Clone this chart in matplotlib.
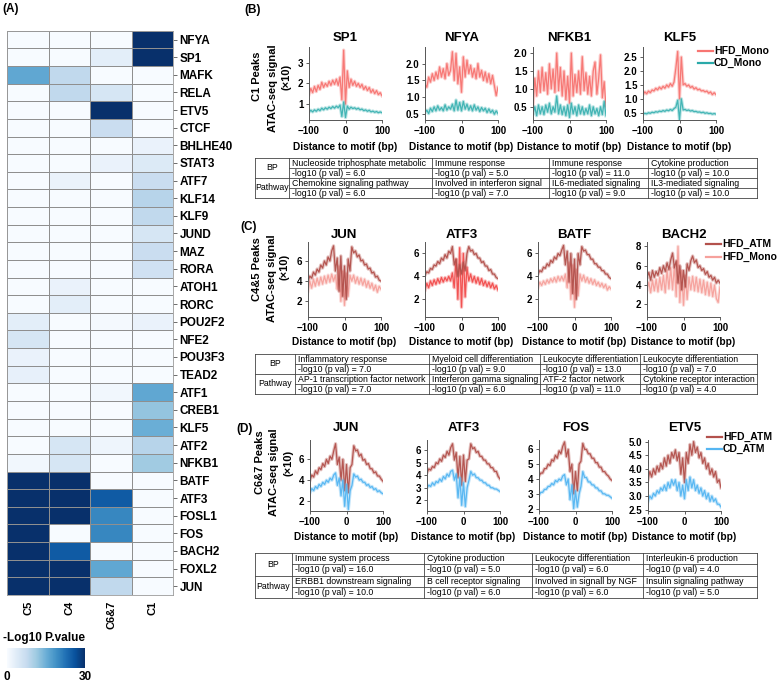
import matplotlib
matplotlib.use("Agg")
import matplotlib.pyplot as plt
import numpy as np
from matplotlib import font_manager
from matplotlib.lines import Line2D
from matplotlib.colors import Normalize
from matplotlib.cm import ScalarMappable

W, H = 778, 683
plt.rcParams['font.family'] = ['Liberation Sans', 'DejaVu Sans']
_names = {f.name for f in font_manager.fontManager.ttflist}
NARROW = 'Liberation Sans Narrow' if 'Liberation Sans Narrow' in _names else 'Liberation Sans'

# ---------------- (A) heatmap data ----------------
tf_names = ["NFYA", "SP1", "MAFK", "RELA", "ETV5", "CTCF", "BHLHE40", "STAT3",
            "ATF7", "KLF14", "KLF9", "JUND", "MAZ", "RORA", "ATOH1", "RORC",
            "POU2F2", "NFE2", "POU3F3", "TEAD2", "ATF1", "CREB1", "KLF5", "ATF2",
            "NFKB1", "BATF", "ATF3", "FOSL1", "FOS", "BACH2", "FOXL2", "JUN"]
clusters = ["C5", "C4", "C6&7", "C1"]
c5 = [0, 0, 16, 0, 0, 0, 0, 0, 0, 0, 0, 0, 0, 0, 0, 0,
      3, 5, 2, 2.5, 0, 0, 0, 0, 1, 30, 30, 30, 30, 30, 30, 30]
c4 = [0, 0, 8, 8, 0, 0, 0, 0, 2, 0, 0, 0, 0, 0, 2, 3,
      0, 0, 0, 0, 0, 0, 0, 5, 5, 30, 30, 30, 0, 25, 30, 30]
c67 = [0, 3, 0, 5, 30, 7, 0, 2, 0, 0, 0, 0, 0, 0, 0, 0,
       0.5, 0, 0, 0, 1, 0, 0, 1.5, 0, 0, 25, 20, 20, 0, 16, 8]
c1 = [30, 30, 0, 0, 0, 0, 2, 4, 7, 9, 8, 5, 7, 6, 0, 0,
      2, 0, 0, 0, 16, 12, 15, 9, 11, 0, 0, 0, 0, 0, 0, 0]

# ---------------- footprint profiles (x10 ATAC signal) ----------------
bp = list(range(-100, 101, 5))

# (B) C1 peaks
b_titles = ["SP1", "NFYA", "NFKB1", "KLF5"]
sp1_hfd_mono = [1.45, 1.75, 1.55, 1.85, 1.60, 1.90, 1.70, 2.05, 1.80, 2.00,
                1.85, 2.10, 1.90, 2.15, 1.95, 2.20, 1.90, 2.30, 1.20, 3.60,
                1.00, 2.60, 1.80, 2.20, 1.90, 2.10, 1.85, 2.00, 1.80, 1.95,
                1.70, 1.85, 1.65, 1.80, 1.55, 1.70, 1.50, 1.65, 1.45, 1.55, 1.40]
sp1_cd_mono = [0.60, 0.70, 0.62, 0.72, 0.65, 0.75, 0.68, 0.80, 0.72, 0.82,
               0.75, 0.85, 0.78, 0.88, 0.80, 0.90, 0.82, 0.95, 0.40, 1.10,
               0.35, 0.90, 0.75, 0.85, 0.78, 0.82, 0.75, 0.80, 0.72, 0.76,
               0.68, 0.72, 0.65, 0.70, 0.62, 0.66, 0.60, 0.64, 0.58, 0.62, 0.58]
nfya_hfd_mono = [1.40, 1.30, 1.60, 1.45, 1.70, 1.50, 1.75, 1.55, 1.90, 1.60,
                 1.85, 1.55, 2.00, 1.65, 1.80, 2.35, 1.50, 2.30, 1.40, 1.90,
                 1.15, 2.20, 1.60, 2.10, 1.70, 1.95, 1.60, 1.85, 1.55, 2.00,
                 1.60, 1.80, 1.50, 1.75, 1.45, 1.70, 1.40, 1.65, 1.35, 1.05, 1.30]
nfya_cd_mono = [0.55, 0.62, 0.52, 0.68, 0.58, 0.72, 0.60, 0.75, 0.62, 0.70,
                0.60, 0.78, 0.62, 0.72, 0.65, 0.80, 0.60, 0.92, 0.62, 0.85,
                0.60, 0.88, 0.65, 0.80, 0.62, 0.75, 0.60, 0.78, 0.62, 0.72,
                0.58, 0.70, 0.60, 0.68, 0.55, 0.66, 0.55, 0.62, 0.50, 0.60, 0.52]
nfkb1_hfd_mono = [0.55, 1.30, 0.80, 1.50, 0.90, 1.60, 0.95, 1.45, 0.85, 1.70,
                  1.00, 1.55, 0.90, 2.00, 0.95, 1.60, 0.80, 1.50, 0.70, 1.35,
                  0.60, 2.00, 0.80, 1.40, 0.90, 1.50, 0.85, 1.90, 0.95, 1.45,
                  0.85, 1.35, 0.80, 1.50, 1.75, 0.85, 1.30, 1.95, 0.75, 1.20, 0.50]
nfkb1_cd_mono = [0.30, 0.50, 0.25, 0.55, 0.30, 0.50, 0.28, 0.55, 0.35, 0.60,
                 0.30, 0.50, 0.35, 0.80, 0.30, 0.55, 0.28, 0.50, 0.25, 0.55,
                 0.20, 0.60, 0.30, 0.50, 0.25, 0.55, 0.30, 0.50, 0.28, 0.45,
                 0.30, 0.55, 0.25, 0.50, 0.30, 0.45, 0.25, 0.50, 0.28, 0.65, 0.25]
klf5_hfd_mono = [1.15, 1.25, 1.18, 1.28, 1.22, 1.32, 1.28, 1.38, 1.32, 1.42,
                 1.35, 1.45, 1.38, 1.50, 1.42, 1.55, 1.45, 1.60, 2.10, 2.70,
                 1.00, 2.50, 1.50, 1.55, 1.45, 1.50, 1.40, 1.45, 1.35, 1.40,
                 1.32, 1.35, 1.28, 1.30, 1.25, 1.28, 1.20, 1.25, 1.15, 1.22, 1.15]
klf5_cd_mono = [0.45, 0.48, 0.46, 0.50, 0.48, 0.52, 0.50, 0.54, 0.52, 0.56,
                0.54, 0.58, 0.55, 0.60, 0.57, 0.62, 0.58, 0.65, 0.70, 0.95,
                0.25, 1.00, 0.60, 0.62, 0.58, 0.60, 0.56, 0.58, 0.54, 0.55,
                0.52, 0.53, 0.50, 0.52, 0.48, 0.50, 0.47, 0.48, 0.45, 0.47, 0.45]

# (C) C4&5 peaks
c_titles = ["JUN", "ATF3", "BATF", "BACH2"]
jun_c_atm = [4.0, 4.5, 4.3, 4.9, 4.6, 5.2, 4.9, 5.6, 5.3, 6.0,
             5.6, 6.4, 6.0, 7.0, 7.5, 5.0, 6.3, 3.0, 6.5, 2.5,
             5.5, 2.2, 6.2, 5.0, 7.4, 6.8, 7.0, 6.4, 6.6, 6.0,
             6.1, 5.6, 5.7, 5.2, 5.3, 4.8, 4.9, 4.4, 4.5, 4.1, 4.0]
jun_c_mono = [3.0, 4.0, 3.3, 4.2, 3.5, 4.3, 3.6, 4.4, 3.7, 4.5,
              3.8, 4.6, 3.9, 4.7, 4.0, 4.6, 3.2, 5.5, 2.0, 5.0,
              1.6, 4.8, 2.5, 4.6, 4.0, 4.6, 3.8, 4.4, 3.7, 4.3,
              3.6, 4.2, 3.4, 4.0, 3.3, 3.8, 3.1, 3.6, 2.9, 3.5, 3.2]
atf3_c_atm = [4.1, 4.4, 4.3, 4.7, 4.6, 5.0, 4.9, 5.3, 5.1, 5.6,
              5.4, 5.9, 5.6, 6.2, 6.0, 6.6, 5.0, 5.5, 4.0, 5.0,
              4.2, 5.2, 4.5, 6.0, 6.6, 6.2, 6.3, 5.9, 6.0, 5.6,
              5.6, 5.2, 5.3, 4.9, 4.9, 4.5, 4.6, 4.2, 4.2, 3.9, 3.8]
atf3_c_mono = [2.8, 3.4, 3.0, 3.6, 3.2, 3.7, 3.3, 3.8, 3.4, 3.9,
               3.5, 3.9, 3.6, 4.0, 3.6, 4.3, 3.0, 5.5, 2.0, 6.5,
               1.3, 6.0, 2.2, 4.8, 3.6, 4.2, 3.5, 4.0, 3.4, 3.9,
               3.3, 3.8, 3.2, 3.6, 3.1, 3.5, 3.0, 3.4, 2.9, 3.2, 2.8]
batf_c_atm = [4.2, 4.5, 4.4, 4.8, 4.7, 5.1, 4.9, 5.4, 5.2, 5.7,
              5.5, 6.0, 5.8, 6.3, 6.7, 5.0, 6.2, 3.5, 6.0, 2.5,
              5.5, 2.0, 6.0, 5.0, 6.6, 6.2, 6.3, 5.9, 5.9, 5.5,
              5.5, 5.1, 5.1, 4.8, 4.8, 4.5, 4.5, 4.2, 4.2, 3.9, 3.8]
batf_c_mono = [3.0, 3.5, 3.2, 3.6, 3.3, 3.7, 3.4, 3.8, 3.5, 3.9,
               3.5, 4.0, 3.6, 4.0, 3.6, 4.2, 3.0, 5.2, 2.0, 5.0,
               1.3, 4.6, 2.3, 4.2, 3.6, 4.1, 3.5, 3.9, 3.4, 3.8,
               3.3, 3.7, 3.2, 3.5, 3.1, 3.4, 3.0, 3.3, 2.8, 3.1, 2.9]
bach2_c_atm = [4.8, 5.3, 4.5, 5.5, 4.8, 5.4, 5.0, 5.8, 5.2, 6.0,
               5.4, 6.3, 5.6, 6.6, 7.3, 5.8, 6.5, 4.2, 6.0, 3.5,
               5.5, 3.8, 6.2, 5.5, 6.5, 7.0, 6.3, 6.6, 5.8, 6.0,
               5.5, 5.7, 5.1, 5.4, 4.8, 5.0, 4.5, 4.8, 4.2, 4.5, 4.2]
bach2_c_mono = [3.5, 4.3, 3.2, 4.5, 3.4, 4.6, 3.3, 4.8, 3.5, 5.0,
                3.2, 5.5, 3.6, 5.8, 3.5, 6.0, 2.8, 8.0, 2.2, 5.5,
                1.9, 5.0, 2.5, 4.8, 3.5, 4.9, 3.4, 4.8, 3.3, 4.6,
                3.2, 4.5, 3.0, 4.3, 2.9, 4.2, 2.8, 4.0, 2.6, 2.2, 3.8]

# (D) C6&7 peaks
d_titles = ["JUN", "ATF3", "FOS", "ETV5"]
jun_d_atm = [4.0, 4.5, 4.3, 4.9, 4.6, 5.2, 5.0, 5.6, 5.3, 6.0,
             5.6, 6.3, 6.0, 6.8, 7.5, 5.5, 6.2, 4.0, 6.0, 3.0,
             5.5, 2.8, 5.2, 5.5, 7.3, 6.8, 6.9, 6.3, 6.5, 5.9,
             6.0, 5.5, 5.6, 5.1, 5.1, 4.7, 4.8, 4.4, 4.4, 4.1, 3.9]
jun_d_cd = [2.8, 3.2, 3.0, 3.4, 3.2, 3.6, 3.4, 3.8, 3.6, 4.0,
            3.8, 4.2, 4.0, 4.5, 4.7, 3.5, 4.2, 2.5, 4.0, 1.5,
            3.6, 1.2, 3.0, 3.5, 4.6, 4.3, 4.4, 4.0, 4.1, 3.8,
            3.8, 3.5, 3.6, 3.3, 3.4, 3.1, 3.2, 2.9, 3.0, 2.8, 2.7]
atf3_d_atm = [4.2, 4.5, 4.4, 4.7, 4.6, 5.0, 4.9, 5.3, 5.1, 5.6,
              5.4, 5.9, 5.6, 6.2, 6.5, 5.2, 5.8, 3.8, 5.5, 3.2,
              5.6, 3.5, 5.2, 5.3, 6.5, 6.1, 6.2, 5.8, 5.9, 5.5,
              5.5, 5.2, 5.2, 4.9, 4.9, 4.6, 4.6, 4.3, 4.3, 3.9, 3.7]
atf3_d_cd = [3.0, 3.2, 3.1, 3.4, 3.2, 3.5, 3.4, 3.7, 3.5, 3.9,
             3.7, 4.1, 3.9, 4.3, 4.4, 3.6, 4.1, 2.2, 3.8, 1.6,
             3.4, 1.5, 3.0, 3.6, 4.3, 4.0, 4.1, 3.8, 3.8, 3.6,
             3.6, 3.4, 3.4, 3.2, 3.2, 3.0, 3.0, 2.9, 2.9, 2.8, 2.7]
fos_d_atm = [4.2, 4.4, 4.4, 4.7, 4.7, 5.0, 4.9, 5.3, 5.2, 5.6,
             5.4, 5.9, 5.7, 6.2, 6.5, 5.5, 6.0, 4.5, 5.0, 3.0,
             4.5, 3.2, 5.0, 5.2, 6.4, 6.0, 6.0, 5.7, 5.7, 5.4,
             5.4, 5.1, 5.1, 4.8, 4.8, 4.5, 4.5, 4.3, 4.2, 4.0, 3.9]
fos_d_cd = [2.9, 3.1, 3.1, 3.3, 3.3, 3.5, 3.5, 3.7, 3.6, 3.9,
            3.8, 4.0, 3.9, 4.2, 4.3, 3.6, 4.0, 2.6, 3.6, 2.0,
            3.2, 2.1, 3.0, 3.5, 4.5, 4.1, 4.1, 3.8, 3.8, 3.6,
            3.6, 3.4, 3.4, 3.2, 3.2, 3.0, 3.0, 2.9, 2.9, 2.8, 2.7]
etv5_d_atm = [3.6, 3.9, 3.7, 4.0, 3.8, 4.1, 3.9, 4.2, 4.0, 4.4,
              4.1, 4.5, 4.2, 4.6, 4.4, 4.7, 4.3, 4.6, 3.8, 4.4,
              3.5, 4.6, 4.2, 4.9, 4.5, 5.0, 4.6, 4.8, 4.4, 4.6,
              4.2, 4.4, 4.0, 4.2, 3.8, 4.0, 3.7, 3.9, 3.5, 3.6, 3.3]
etv5_d_cd = [2.8, 3.0, 2.9, 3.1, 3.0, 3.2, 3.1, 3.3, 3.2, 3.4,
             3.2, 3.5, 3.3, 3.6, 3.4, 3.6, 3.2, 3.5, 3.0, 3.4,
             2.9, 3.6, 3.2, 3.7, 3.3, 3.6, 3.2, 3.4, 3.1, 3.3,
             3.0, 3.2, 2.9, 3.1, 2.8, 3.0, 2.8, 2.9, 2.7, 2.7, 2.6]

# ---------------- enrichment tables ----------------
b_bp_terms = ["Nucleoside triphosphate metabolic", "Immune response",
              "Immune response", "Cytokine production"]
b_bp_logp = [6.0, 5.0, 11.0, 10.0]
b_path_terms = ["Chemokine signaling pathway", "Involved in interferon signal",
                "IL6-mediated signaling", "IL3-mediated signaling"]
b_path_logp = [6.0, 7.0, 9.0, 10.0]

c_bp_terms = ["Inflammatory response", "Myeloid cell differentiation",
              "Leukocyte differentiation", "Leukocyte differentiation"]
c_bp_logp = [7.0, 9.0, 13.0, 7.0]
c_path_terms = ["AP-1 transcription factor network", "Interferon gamma signaling",
                "ATF-2 factor network", "Cytokine receptor interaction"]
c_path_logp = [7.0, 6.0, 11.0, 4.0]

d_bp_terms = ["Immune system process", "Cytokine production",
              "Leukocyte differentiation", "Interleukin-6 production"]
d_bp_logp = [16.0, 5.0, 6.0, 4.0]
d_path_terms = ["ERBB1 downstream signaling", "B cell receptor signaling",
                "Involved in signall by NGF", "Insulin signaling pathway"]
d_path_logp = [10.0, 6.0, 6.0, 5.0]


def box(x0, y0, x1, y1):
    return [x0 / W, 1 - y1 / H, (x1 - x0) / W, (y1 - y0) / H]


def fx(x):
    return x / W


def fy(y):
    return 1 - y / H


fig = plt.figure(figsize=(W / 100, H / 100), dpi=100)

# ---------------- (A) ----------------
fig.text(fx(2), fy(9), "(A)", fontsize=8.5, fontweight='bold', va='center')
mat = np.array([c5, c4, c67, c1]).T
axh = fig.add_axes(box(7.3, 30.7, 173.3, 595))
axh.pcolormesh(mat, cmap='Blues', vmin=0, vmax=30, edgecolors='#8f8f8f', linewidth=0.5)
axh.set_xlim(0, len(clusters))
axh.set_ylim(len(tf_names), 0)
axh.set_xticks(np.arange(len(clusters)) + 0.5)
axh.set_xticklabels(clusters, rotation=90, fontsize=8, fontweight='bold')
axh.yaxis.tick_right()
axh.set_yticks(np.arange(len(tf_names)) + 0.5)
axh.set_yticklabels(tf_names, fontsize=8.5, fontweight='bold')
axh.tick_params(axis='y', length=3, width=0.6, pad=1.5, color='#555555')
axh.tick_params(axis='x', length=0, pad=4)
for s in axh.spines.values():
    s.set_color('#9a9a9a')
    s.set_linewidth(0.6)

fig.text(fx(3), fy(638), "-Log10 P.value", fontsize=8.5, fontweight='bold', va='center')
cax = fig.add_axes(box(7.3, 648, 85, 668))
cb = fig.colorbar(ScalarMappable(norm=Normalize(0, 30), cmap='Blues'), cax=cax,
                  orientation='horizontal', ticks=[0, 30])
cb.outline.set_visible(False)
cax.tick_params(length=0, pad=2)
for t in cax.get_xticklabels():
    t.set_fontsize(8.5)
    t.set_fontweight('bold')


# ---------------- line panels ----------------
def fmt_ticks(ticks):
    if all(float(t).is_integer() for t in ticks):
        return ["%d" % t for t in ticks]
    return ["%.1f" % t for t in ticks]


def trace(ax, y, col):
    # soft band underneath + sharp line on top, like the dense noisy tracks
    ax.plot(bp, y, color=col, lw=2.4, alpha=0.35, solid_joinstyle='round')
    ax.plot(bp, y, color=col, lw=0.9, alpha=0.95)


def line_panel(tag, tag_xy, lefts, width, top, bottom, title_y, xlabel_y, titles,
               under, over, under_colors, over_color, ylims, yticks,
               ylab_lines, ylab_pos, legend_labels, legend_colors, legend_xy):
    fig.text(fx(tag_xy[0]), fy(tag_xy[1]), tag, fontsize=8.5, fontweight='bold', va='center')
    for i in range(4):
        ax = fig.add_axes(box(lefts[i], top, lefts[i] + width, bottom))
        trace(ax, under[i], under_colors[i])
        trace(ax, over[i], over_color)
        ax.set_xlim(-100, 100)
        ax.set_ylim(*ylims[i])
        ax.set_xticks([-100, 0, 100])
        ax.set_xticklabels(["\u2212100", "0", "100"])
        ax.set_yticks(yticks[i])
        ax.set_yticklabels(fmt_ticks(yticks[i]))
        for t in ax.get_xticklabels() + ax.get_yticklabels():
            t.set_family([NARROW, 'Liberation Sans'])
            t.set_fontweight('bold')
            t.set_fontsize(7)
        ax.tick_params(length=2.5, width=0.6, pad=1.5, color='#444444')
        for s in ['top', 'right']:
            ax.spines[s].set_visible(False)
        for s in ['left', 'bottom']:
            ax.spines[s].set_linewidth(0.7)
            ax.spines[s].set_color('#555555')
        cx = lefts[i] + width / 2
        fig.text(fx(cx), fy(title_y), titles[i], fontsize=9.5, fontweight='bold',
                 ha='center', va='center')
        fig.text(fx(cx), fy(xlabel_y), "Distance to motif (bp)", fontsize=7.3,
                 fontweight='bold', ha='center', va='center')
    for txt, (x, y) in zip(ylab_lines, ylab_pos):
        fig.text(fx(x), fy(y), txt, rotation=90, fontsize=8, fontweight='bold',
                 ha='center', va='center')
    lx, ly, dy = legend_xy
    for k, (lab, col) in enumerate(zip(legend_labels, legend_colors)):
        yy = ly + k * dy
        fig.add_artist(Line2D([fx(lx), fx(lx + 15)], [fy(yy), fy(yy)], color=col, lw=1.6))
        fig.text(fx(lx + 16), fy(yy), lab, fontsize=7.5, fontweight='bold', va='center')


def table(xs, y0, y1, bp_terms, bp_logp, path_terms, path_logp):
    ax = fig.add_axes(box(xs[0], y0, xs[-1], y1))
    ax.set_xlim(xs[0], xs[-1])
    ax.set_ylim(y1, y0)
    ax.axis('off')
    h = (y1 - y0) / 4.0
    kw = dict(color='#444444', lw=0.6, clip_on=False)
    for yy in [y0, y0 + 2 * h, y1]:
        ax.plot([xs[0], xs[-1]], [yy, yy], **kw)
    for yy in [y0 + h, y0 + 3 * h]:
        ax.plot([xs[1], xs[-1]], [yy, yy], **kw)
    for xx in xs:
        ax.plot([xx, xx], [y0, y1], **kw)
    ax.text((xs[0] + xs[1]) / 2, y0 + h, "BP", fontsize=6.3, ha='center', va='center')
    ax.text((xs[0] + xs[1]) / 2, y0 + 3 * h, "Pathway", fontsize=6.3, ha='center', va='center')
    rows = [bp_terms, ["-log10 (p val) = %.1f" % v for v in bp_logp],
            path_terms, ["-log10 (p val) = %.1f" % v for v in path_logp]]
    for r, row in enumerate(rows):
        for j, txt in enumerate(row):
            ax.text(xs[j + 1] + 3, y0 + (r + 0.5) * h, txt, fontsize=6.3,
                    ha='left', va='center')


WID = 73
# (B)
line_panel("(B)", (244, 10), [309, 425, 533, 643], WID, 47, 120, 38, 147, b_titles,
           [sp1_hfd_mono, nfya_hfd_mono, nfkb1_hfd_mono, klf5_hfd_mono],
           [sp1_cd_mono, nfya_cd_mono, nfkb1_cd_mono, klf5_cd_mono],
           ['#f77572'] * 4, '#3db3b3',
           [(0.23, 3.75), (0.33, 2.49), (0.13, 2.17), (0.24, 2.86)],
           [[1, 2, 3], [0.5, 1.0, 1.5, 2.0], [0.5, 1.0, 1.5, 2.0], [0.5, 1.0, 1.5, 2.0, 2.5]],
           ["C1 Peaks", "ATAC-seq signal", "(\u00d710)"],
           [(257, 76), (273, 88), (287, 77)],
           ["HFD_Mono", "CD_Mono"], ['#f77572', '#2aa9a9'], (698, 50.7, 12.6))
table([254.6, 289.3, 431.7, 548.7, 648.3, 756.5], 158, 198,
      b_bp_terms, b_bp_logp, b_path_terms, b_path_logp)

# (C)
line_panel("(C)", (240, 227), [308, 425, 538, 647], WID, 242, 317, 235, 342, c_titles,
           [jun_c_mono, atf3_c_mono, batf_c_mono, bach2_c_mono],
           [jun_c_atm, atf3_c_atm, batf_c_atm, bach2_c_atm],
           ['#f6a19c', '#f24d4d', '#f6a19c', '#f6a19c'], '#b3514c',
           [(0.45, 7.88), (0.45, 7.0), (0.45, 7.0), (0.69, 8.45)],
           [[2, 4, 6], [2, 4, 6], [2, 4, 6], [2, 4, 6, 8]],
           ["C4&5 Peaks", "ATAC-seq signal", "(\u00d710)"],
           [(257, 269), (272, 278), (285, 267)],
           ["HFD_ATM", "HFD_Mono"], ['#b3514c', '#f6a19c'], (706, 244.3, 12.4))
table([254.6, 295.2, 428.8, 540.2, 639.9, 757.2], 354, 394,
      c_bp_terms, c_bp_logp, c_path_terms, c_path_logp)

# (D)
line_panel("(D)", (236, 429), [310, 427, 539, 648], WID, 440, 511, 428, 537, d_titles,
           [jun_d_atm, atf3_d_atm, fos_d_atm, etv5_d_atm],
           [jun_d_cd, atf3_d_cd, fos_d_cd, etv5_d_cd],
           ['#b3514c'] * 4, '#55b6f2',
           [(1.05, 7.85), (1.15, 6.8), (1.84, 6.63), (2.45, 5.06)],
           [[2, 4, 6], [2, 3, 4, 5, 6], [2, 3, 4, 5, 6], [2.5, 3.0, 3.5, 4.0, 4.5, 5.0]],
           ["C6&7 Peaks", "ATAC-seq signal", "(\u00d710)"],
           [(260, 462), (274, 472), (288.6, 463)],
           ["HFD_ATM", "CD_ATM"], ['#b3514c', '#55b6f2'], (707, 437, 11.5))
table([254.6, 292.3, 424.4, 532.1, 642.8, 757.2], 553, 598,
      d_bp_terms, d_bp_logp, d_path_terms, d_path_logp)

fig.savefig("out.png", dpi=100)
